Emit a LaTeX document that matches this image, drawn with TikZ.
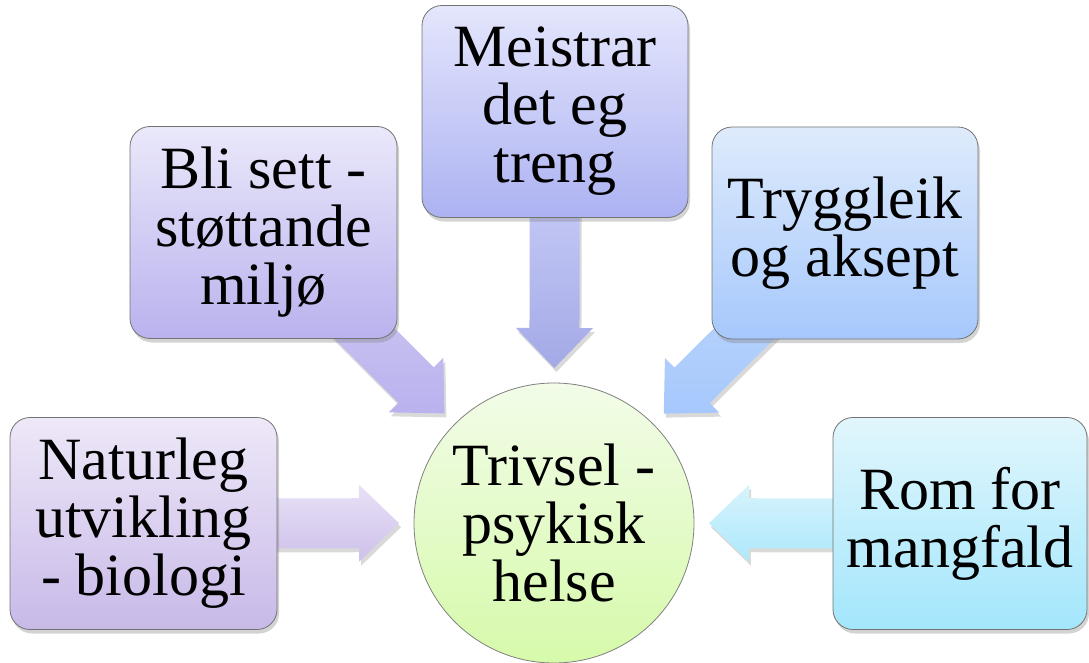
\documentclass[tikz,border=0pt]{standalone}
\usepackage{fontspec}
\setmainfont{Liberation Serif}
\usetikzlibrary{calc,shadows,backgrounds}

\definecolor{natTop}{RGB}{238,232,248}
\definecolor{natBot}{RGB}{200,185,232}
\definecolor{bliTop}{RGB}{234,232,250}
\definecolor{bliBot}{RGB}{185,178,238}
\definecolor{meiTop}{RGB}{228,230,252}
\definecolor{meiBot}{RGB}{172,178,242}
\definecolor{tryTop}{RGB}{222,235,252}
\definecolor{tryBot}{RGB}{166,200,252}
\definecolor{romTop}{RGB}{225,246,252}
\definecolor{romBot}{RGB}{163,230,252}
\definecolor{hubTop}{RGB}{242,252,232}
\definecolor{hubBot}{RGB}{214,250,170}

% block arrow from a box towards the hub
\newcommand{\blockarrow}[3]{%
  \coordinate (#1-s) at ($(hub.center)!0.8!(#1.center)$);
  \coordinate (#1-t) at ($(hub.center)!155pt!(#1.center)$);
  \coordinate (#1-h) at ($(#1-t)!40pt!(#1-s)$);
  \path[flow, top color=#2, bottom color=#3]
    ($(#1-s)!25pt!90:(#1-t)$) -- ($(#1-h)!25pt!90:(#1-t)$)
    -- ($(#1-h)!38.5pt!90:(#1-t)$) -- (#1-t)
    -- ($(#1-h)!38.5pt!-90:(#1-t)$) -- ($(#1-h)!25pt!-90:(#1-t)$)
    -- ($(#1-s)!25pt!-90:(#1-t)$) -- cycle;}

\begin{document}
\begin{tikzpicture}[x=1pt,y=-1pt,
  box/.style={draw=black!55, line width=0.8pt, rounded corners=20pt,
    minimum height=212pt, align=center, inner sep=0pt,
    font=\fontsize{60}{58}\selectfont,
    drop shadow={opacity=0.35, shadow xshift=2pt, shadow yshift=-4pt}},
  hub/.style={circle, draw=black!50, line width=0.8pt, minimum size=280pt,
    inner sep=0pt, align=center, font=\fontsize{60}{58}\selectfont,
    top color=hubTop, bottom color=hubBot},
  flow/.style={drop shadow={opacity=0.3, shadow xshift=2pt, shadow yshift=-4pt}}]

\useasboundingbox (0,0) rectangle (1089,663);

\node[hub] (hub) at (554,523) {Trivsel -\\psykisk\\helse};

\node[box, minimum width=267pt, top color=natTop, bottom color=natBot] (nat) at (143.5,523.5) {Naturleg\\utvikling\\- biologi};
\node[box, minimum width=267pt, top color=bliTop, bottom color=bliBot] (bli) at (263.5,232.5) {Bli sett -\\støttande\\miljø};
\node[box, minimum width=266pt, top color=meiTop, bottom color=meiBot] (mei) at (555,111.5) {Meistrar\\det eg\\treng};
\node[box, minimum width=266pt, top color=tryTop, bottom color=tryBot] (try) at (845,233) {Tryggleik\\og aksept};
\node[box, minimum width=254pt, top color=romTop, bottom color=romBot] (rom) at (960,523.5) {Rom for\\mangfald};

\begin{scope}[on background layer]
\blockarrow{nat}{natTop!85!natBot}{natBot!85!natTop}
\blockarrow{bli}{bliTop!40!bliBot}{bliBot}
\blockarrow{mei}{meiTop!45!meiBot}{meiBot!95!black}
\blockarrow{try}{tryTop!40!tryBot}{tryBot}
\blockarrow{rom}{romTop!85!romBot}{romBot!85!romTop}
\end{scope}

\end{tikzpicture}
\end{document}
